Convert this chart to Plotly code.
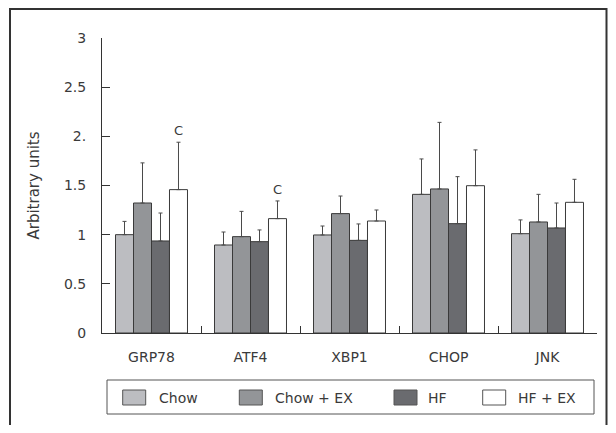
import plotly.graph_objects as go

categories = ["GRP78", "ATF4", "XBP1", "CHOP", "JNK"]
series_names = ["Chow", "Chow + EX", "HF", "HF + EX"]
chow = [1.00, 0.895, 0.997, 1.41, 1.01]
chow_ex = [1.322, 0.98, 1.214, 1.465, 1.129]
hf = [0.936, 0.929, 0.942, 1.112, 1.068]
hf_ex = [1.458, 1.163, 1.139, 1.498, 1.329]
chow_err_top = [1.135, 1.027, 1.088, 1.77, 1.15]
chow_ex_err_top = [1.73, 1.237, 1.393, 2.142, 1.41]
hf_err_top = [1.22, 1.048, 1.109, 1.59, 1.322]
hf_ex_err_top = [1.94, 1.343, 1.251, 1.862, 1.563]
sig_labels = ["C", "C", "", "", ""]
y_tickvals = [0, 0.5, 1, 1.5, 2, 2.5, 3]
y_ticktext = ["0", "0.5", "1", "1.5", "2.", "2.5", "3"]

values = [chow, chow_ex, hf, hf_ex]
err_tops = [chow_err_top, chow_ex_err_top, hf_err_top, hf_ex_err_top]
colors = ["#bcbdc1", "#939598", "#6a6b6f", "#ffffff"]

FONT = "DejaVu Sans"
TXT = "#3a3a3a"

# plot area in page pixels (page has an 8px body margin)
PX_L, PX_R, PX_T, PX_B = 102, 597, 38, 333
W, H = 600, 417


def px_x(p):
    return (p - PX_L) / (PX_R - PX_L)


def px_y(p):
    return (PX_B - p) / (PX_B - PX_T)


fig = go.Figure()
for name, vals, tops, col in zip(series_names, values, err_tops, colors):
    fig.add_trace(go.Bar(
        name=name, x=categories, y=vals, showlegend=False,
        marker=dict(color=col, line=dict(color="#3a3a3a", width=1)),
        error_y=dict(type="data", symmetric=False,
                     array=[t - v for t, v in zip(tops, vals)],
                     arrayminus=[0] * len(vals),
                     color="#4a4a4a", thickness=1, width=2),
    ))

# significance letters above HF + EX bars
for cat, lab, top in zip(categories, sig_labels, hf_ex_err_top):
    if lab:
        fig.add_annotation(x=cat, y=top, text=lab, showarrow=False,
                           xref="x", yref="y", yanchor="bottom", yshift=2,
                           xshift=27, font=dict(family=FONT, size=13, color=TXT))

# outer frame
fig.add_shape(type="rect", xref="paper", yref="paper",
              x0=px_x(10), x1=px_x(606.5), y0=px_y(445), y1=px_y(9),
              line=dict(color="#333333", width=2), fillcolor="rgba(0,0,0,0)")
# legend box
fig.add_shape(type="rect", xref="paper", yref="paper",
              x0=px_x(107), x1=px_x(594), y0=px_y(414), y1=px_y(380),
              line=dict(color="#555555", width=1), fillcolor="rgba(0,0,0,0)")

# manual legend (larger swatches like the reference)
swatch_left = [122.7, 239.3, 394.0, 482.7]
text_left = [157.0, 273.0, 426.0, 516.0]
for name, col, sl, tl in zip(series_names, colors, swatch_left, text_left):
    fig.add_shape(type="rect", xref="paper", yref="paper",
                  x0=px_x(sl), x1=px_x(sl + 23), y0=px_y(405), y1=px_y(390),
                  line=dict(color="#555555", width=1), fillcolor=col)
    fig.add_annotation(x=px_x(tl), y=px_y(397.5), xref="paper", yref="paper",
                       text=name, showarrow=False, xanchor="left", yanchor="middle",
                       font=dict(family=FONT, size=14, color=TXT))

fig.update_layout(
    width=W, height=H,
    margin=dict(l=PX_L - 8, r=W - (PX_R - 8), t=PX_T - 8, b=H - (PX_B - 8)),
    paper_bgcolor="white", plot_bgcolor="white",
    barmode="group", bargap=0.273, bargroupgap=0,
    font=dict(family=FONT, size=14, color=TXT),
    showlegend=False,
    xaxis=dict(type="category", showline=True, linecolor="#333333", linewidth=1,
               ticks="inside", tickson="boundaries", ticklen=7, tickcolor="#333333",
               showgrid=False, tickfont=dict(family=FONT, size=14, color=TXT),
               ticklabelstandoff=11),
    yaxis=dict(range=[0, 3], tickvals=y_tickvals, ticktext=y_ticktext,
               showline=True, linecolor="#333333", linewidth=1,
               ticks="inside", ticklen=8, tickcolor="#333333",
               showgrid=False, zeroline=False,
               tickfont=dict(family=FONT, size=14, color=TXT),
               ticklabelstandoff=12,
               title=dict(text="Arbitrary units", font=dict(family=FONT, size=15, color=TXT),
                          standoff=20)),
)

fig.write_html("out.html")
